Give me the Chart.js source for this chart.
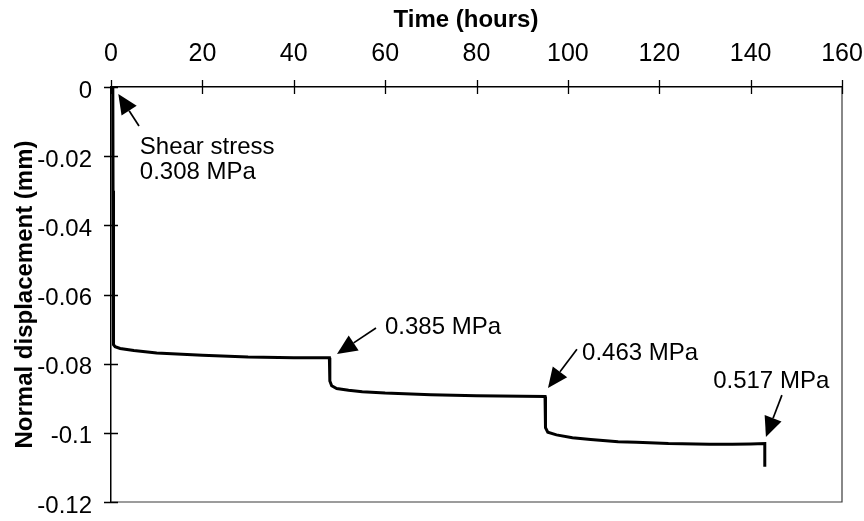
<!DOCTYPE html>
<html><head><meta charset="utf-8">
<script src="https://cdn.jsdelivr.net/npm/chart.js@4.4.0/dist/chart.umd.min.js"></script>
<style>html,body{margin:0;padding:0;background:#fff;}#wrap{width:864px;height:521px;}</style>
</head><body><div id="wrap"><canvas id="c" width="864" height="521"></canvas></div>
<script>
// ---- data ----
const timeHours = [0.4, 0.45, 0.5, 0.6, 0.9, 2, 5, 10, 20, 30, 40, 47.8,
  47.9, 48.3, 49.4, 52, 55, 60, 70, 80, 90, 95.0,
  95.1, 95.6, 97.5, 101, 105, 111, 115, 122, 131, 136, 140, 143.1,
  143.1];
const normalDisplacement = [0, -0.03, -0.07, -0.0745, -0.0751, -0.0756, -0.0762, -0.0769, -0.0776, -0.0781, -0.0783, -0.0783,
  -0.0850, -0.0864, -0.0872, -0.0877, -0.0881, -0.0885, -0.0890, -0.0893, -0.0894, -0.0895,
  -0.0985, -0.0998, -0.1006, -0.1014, -0.1019, -0.1026, -0.1027, -0.1031, -0.1033, -0.1033, -0.1032, -0.1031,
  -0.1098];
const xTickValues = [0, 20, 40, 60, 80, 100, 120, 140, 160];
const xTickLabels = ['0', '20', '40', '60', '80', '100', '120', '140', '160'];
const yTickValues = [0, -0.02, -0.04, -0.06, -0.08, -0.1, -0.12];
const yTickLabels = ['0', '-0.02', '-0.04', '-0.06', '-0.08', '-0.1', '-0.12'];
const xAxisTitle = 'Time (hours)';
const yAxisTitle = 'Normal displacement (mm)';
const annotationTexts = [['Shear stress', '0.308 MPa'], ['0.385 MPa'], ['0.463 MPa'], ['0.517 MPa']];

// annotation placement (data coordinates: hours, mm)
const annotationPlacement = [
  {tip: [1.6, -0.0020], tail: [6.13, -0.0113], text: [6.3, -0.0176], lineStep: -0.0071},
  {tip: [49.47, -0.0772], tail: [58.0, -0.0697], text: [59.97, -0.0694], lineStep: 0},
  {tip: [95.65, -0.0870], tail: [101.99, -0.0758], text: [103.1, -0.0769], lineStep: 0},
  {tip: [143.35, -0.1012], tail: [146.85, -0.0891], text: [131.8, -0.0850], lineStep: 0}
];

const FONT = '"Liberation Sans", Arial, Helvetica, sans-serif';

const points = timeHours.map((t, i) => ({x: t, y: normalDisplacement[i]}));

const decorations = {
  id: 'decorations',
  afterDraw(chart) {
    const {ctx, chartArea: a, scales: {x, y}} = chart;
    ctx.save();
    ctx.strokeStyle = '#3a3a3a';
    ctx.lineWidth = 1.2;
    ctx.beginPath();
    ctx.moveTo(a.right, a.top);
    ctx.lineTo(a.right, a.bottom);
    ctx.lineTo(a.left, a.bottom);
    ctx.stroke();
    ctx.strokeStyle = '#000';
    ctx.lineWidth = 1.3;
    ctx.beginPath();
    xTickValues.forEach(v => {
      const px = Math.round(x.getPixelForValue(v)) + 0.5;
      ctx.moveTo(px, a.top - 7); ctx.lineTo(px, a.top + 7);
    });
    yTickValues.forEach(v => {
      const py = Math.round(y.getPixelForValue(v)) + 0.5;
      ctx.moveTo(a.left - 7, py); ctx.lineTo(a.left + 7, py);
    });
    ctx.stroke();
    ctx.fillStyle = '#000';
    ctx.font = 'bold 24px ' + FONT;
    ctx.textAlign = 'center';
    ctx.textBaseline = 'middle';
    ctx.fillText(xAxisTitle, 466, 20);
    ctx.font = '24px ' + FONT;
    ctx.textAlign = 'left';
    annotationPlacement.forEach((p, i) => {
      const tx = x.getPixelForValue(p.tip[0]), ty = y.getPixelForValue(p.tip[1]);
      const sx = x.getPixelForValue(p.tail[0]), sy = y.getPixelForValue(p.tail[1]);
      const ang = Math.atan2(ty - sy, tx - sx);
      const hl = 20, hw = 9;
      const bx = tx - hl * Math.cos(ang), by = ty - hl * Math.sin(ang);
      ctx.lineWidth = 1.7;
      ctx.beginPath(); ctx.moveTo(sx, sy); ctx.lineTo(bx, by); ctx.stroke();
      ctx.beginPath();
      ctx.moveTo(tx, ty);
      ctx.lineTo(bx + hw * Math.sin(ang), by - hw * Math.cos(ang));
      ctx.lineTo(bx - hw * Math.sin(ang), by + hw * Math.cos(ang));
      ctx.closePath(); ctx.fill();
      annotationTexts[i].forEach((line, j) => {
        ctx.fillText(line, x.getPixelForValue(p.text[0]), y.getPixelForValue(p.text[1] + j * p.lineStep));
      });
    });
    ctx.restore();
  }
};

new Chart(document.getElementById('c'), {
  type: 'scatter',
  data: {datasets: [{
    data: points, showLine: true, borderColor: '#000', borderWidth: 3,
    pointRadius: 0, pointHoverRadius: 0, tension: 0, fill: false
  }]},
  options: {
    responsive: false, animation: false, devicePixelRatio: 1,
    layout: {padding: {left: 0, top: 0, right: 22, bottom: 19}},
    plugins: {legend: {display: false}, tooltip: {enabled: false}},
    scales: {
      x: {
        type: 'linear', position: 'top', min: 0, max: 160,
        afterBuildTicks: s => { s.ticks = xTickValues.map(v => ({value: v})); },
        afterFit: s => { s.height = 87; s.paddingLeft = 0; s.paddingRight = 0; },
        ticks: {
          callback: (v) => xTickLabels[xTickValues.indexOf(v)],
          color: '#000', font: {family: FONT, size: 25}, padding: 18, maxRotation: 0, autoSkip: false
        },
        grid: {display: true, drawOnChartArea: false, drawTicks: false},
        border: {display: true, color: '#000', width: 1.5}
      },
      y: {
        type: 'linear', min: -0.12, max: 0,
        afterBuildTicks: s => { s.ticks = yTickValues.map(v => ({value: v})); },
        afterFit: s => { s.width = 111; s.paddingTop = 0; s.paddingBottom = 0; },
        ticks: {
          callback: (v) => yTickLabels[yTickValues.findIndex(t => Math.abs(t - v) < 1e-9)],
          color: '#000', font: {family: FONT, size: 24}, padding: 19, autoSkip: false, labelOffset: 4
        },
        title: {display: true, text: yAxisTitle, color: '#000', font: {family: FONT, size: 24, weight: 'bold'}, padding: {top: 11, bottom: 0}},
        grid: {display: true, drawOnChartArea: false, drawTicks: false},
        border: {display: true, color: '#000', width: 1.5}
      }
    }
  },
  plugins: [decorations]
});
</script></body></html>
